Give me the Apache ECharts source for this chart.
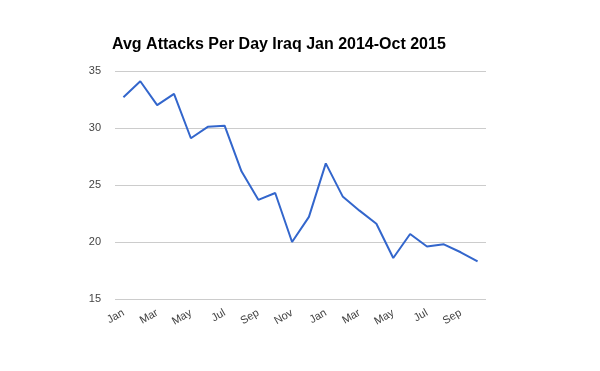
<!DOCTYPE html>
<html><head><meta charset="utf-8">
<script src="https://cdn.jsdelivr.net/npm/echarts@6/dist/echarts.min.js"></script>
<style>html,body{margin:0;padding:0;background:#fff}#c{width:600px;height:371px}</style>
</head><body><div id="c"></div>
<script>
const categories = ['Jan','Feb','Mar','Apr','May','Jun','Jul','Aug','Sep','Oct','Nov','Dec',
                    'Jan','Feb','Mar','Apr','May','Jun','Jul','Aug','Sep','Oct'];
const attacks = [32.7,34.1,32.0,33.0,29.1,30.1,30.2,26.2,23.7,24.3,20.0,22.2,
                 26.9,24.0,22.75,21.6,18.6,20.7,19.6,19.8,19.1,18.3];
const yTicks = [15,20,25,30,35];
const titleText = 'Avg Attacks Per Day Iraq Jan 2014-Oct 2015';

const chart = echarts.init(document.getElementById('c'), null, {renderer:'canvas'});
chart.setOption({
  animation:false,
  title:{text:titleText,left:112,top:37,padding:0,
    textStyle:{fontFamily:'Liberation Sans, Arial',fontSize:16,fontWeight:'bold',color:'#000'}},
  grid:{left:115,right:114,top:71,bottom:72,containLabel:false},
  xAxis:{type:'category',data:categories,boundaryGap:true,
    axisLine:{show:false},axisTick:{show:false},
    axisLabel:{interval:1,rotate:30,margin:13,color:'#444',fontFamily:'Liberation Sans, Arial',fontSize:11}},
  yAxis:{type:'value',min:yTicks[0],max:yTicks[yTicks.length-1],interval:5,
    axisLine:{show:false},axisTick:{show:false},
    axisLabel:{color:'#444',fontFamily:'Liberation Sans, Arial',fontSize:11,margin:14},
    splitLine:{lineStyle:{color:'#cccccc',width:1}}},
  series:[{type:'line',data:attacks,symbol:'none',
    lineStyle:{color:'#3366cc',width:2},itemStyle:{color:'#3366cc'}}]
});
</script></body></html>
